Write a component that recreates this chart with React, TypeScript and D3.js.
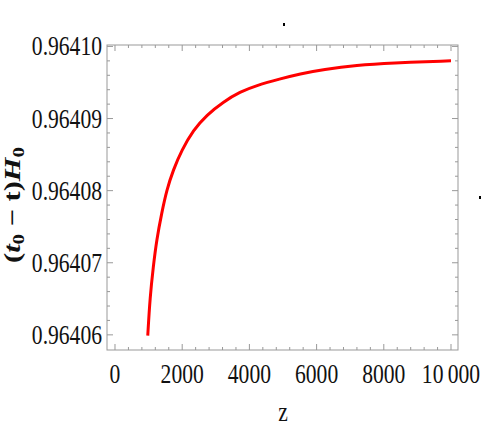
import React from 'react';
import * as d3 from 'd3';

const W = 491;
const H = 436;

// curve
const zValues = [975, 1042, 1140, 1240, 1390, 1540, 1735, 1985, 2330, 2730, 3220, 3720, 4220, 4910, 5500, 6200, 7200, 8200, 10000];
const tH0 = [
  0.9640599, 0.9640652, 0.9640695, 0.9640732, 0.9640769, 0.9640801, 0.9640829,
  0.9640856, 0.9640884, 0.9640905, 0.9640923, 0.9640937, 0.9640946, 0.9640955,
  0.9640962, 0.9640968, 0.9640974, 0.9640977, 0.9640980
];

const xTicks = [0, 2000, 4000, 6000, 8000, 10000];
const xTickLabels = ['0', '2000', '4000', '6000', '8000', '10\u2009000'];
const yTicks = [0.96406, 0.96407, 0.96408, 0.96409, 0.9641];
const yTickLabels = ['0.96406', '0.96407', '0.96408', '0.96409', '0.96410'];

const frame = {left: 107, right: 458, top: 45, bottom: 350};

export default function App() {
  const x = d3.scaleLinear().domain([-238, 10208]).range([frame.left, frame.right]);
  const y = d3.scaleLinear().domain([0.9640579, 0.9641002]).range([frame.bottom, frame.top]);

  const line = d3.line<number>()
    .x((d, i) => x(zValues[i]))
    .y(d => y(d))
    .curve(d3.curveBasis);

  const xMinor = d3.range(0, 10001, 400).filter(v => v % 2000 !== 0);
  const yMinor = d3.range(0, 21).map(i => 0.96406 + i * 0.000002).filter((v, i) => i % 5 !== 0);

  const tickColor = '#999';
  const font = '"Liberation Serif", "DejaVu Serif", serif';

  return (
    <div style={{position: 'absolute', left: 0, top: 0}}>
      <svg width={W} height={H} style={{display: 'block', background: '#fff'}}>
        {/* frame */}
        <rect x={frame.left} y={frame.top} width={frame.right - frame.left} height={frame.bottom - frame.top}
          fill="none" stroke={tickColor} strokeWidth={1} />

        {/* x ticks, bottom and top */}
        {xTicks.map(v => (
          <g key={'xm' + v}>
            <line x1={x(v)} x2={x(v)} y1={frame.bottom} y2={frame.bottom - 6} stroke={tickColor} />
            <line x1={x(v)} x2={x(v)} y1={frame.top} y2={frame.top + 6} stroke={tickColor} />
          </g>
        ))}
        {xMinor.map(v => (
          <g key={'xn' + v}>
            <line x1={x(v)} x2={x(v)} y1={frame.bottom} y2={frame.bottom - 3} stroke={tickColor} />
            <line x1={x(v)} x2={x(v)} y1={frame.top} y2={frame.top + 3} stroke={tickColor} />
          </g>
        ))}

        {/* y ticks, left and right */}
        {yTicks.map(v => (
          <g key={'ym' + v}>
            <line x1={frame.left} x2={frame.left + 6} y1={y(v)} y2={y(v)} stroke={tickColor} />
            <line x1={frame.right} x2={frame.right - 6} y1={y(v)} y2={y(v)} stroke={tickColor} />
          </g>
        ))}
        {yMinor.map(v => (
          <g key={'yn' + v}>
            <line x1={frame.left} x2={frame.left + 3} y1={y(v)} y2={y(v)} stroke={tickColor} />
            <line x1={frame.right} x2={frame.right - 3} y1={y(v)} y2={y(v)} stroke={tickColor} />
          </g>
        ))}

        {/* tick labels */}
        {xTicks.map((v, i) => (
          <text key={'xl' + v} transform={`translate(${x(v)},${383}) scale(0.8,1)`}
            textAnchor="middle" fontFamily={font} fontSize={27} fill="#111">{xTickLabels[i]}</text>
        ))}
        {yTicks.map((v, i) => (
          <text key={'yl' + v} transform={`translate(${102},${y(v) + 9}) scale(0.8,1)`}
            textAnchor="end" fontFamily={font} fontSize={27} fill="#111">{yTickLabels[i]}</text>
        ))}

        {/* curve */}
        <path d={line(tH0) || ''} fill="none" stroke="#ff0000" strokeWidth={3} />

        {/* axis labels */}
        <text transform={`translate(${283},${421}) scale(0.8,1)`} textAnchor="middle"
          fontFamily={font} fontSize={27} fill="#111">z</text>
        <text transform={`translate(${20},${205}) rotate(-90)`} textAnchor="middle"
          fontFamily={font} fontSize={23} fontWeight="bold" fill="#111"
          textLength={116} lengthAdjust="spacingAndGlyphs">
          <tspan>(</tspan>
          <tspan fontStyle="italic">t</tspan>
          <tspan fontSize={16} dy={4}>0</tspan>
          <tspan dy={-4}>{' \u2212 t)'}</tspan>
          <tspan fontStyle="italic">H</tspan>
          <tspan fontSize={16} dy={4}>0</tspan>
        </text>

        {/* stray dots */}
        <rect x={283} y={23} width={2} height={3} fill="#000" />
        <rect x={479} y={196} width={2} height={3} fill="#000" />
      </svg>
    </div>
  );
}
